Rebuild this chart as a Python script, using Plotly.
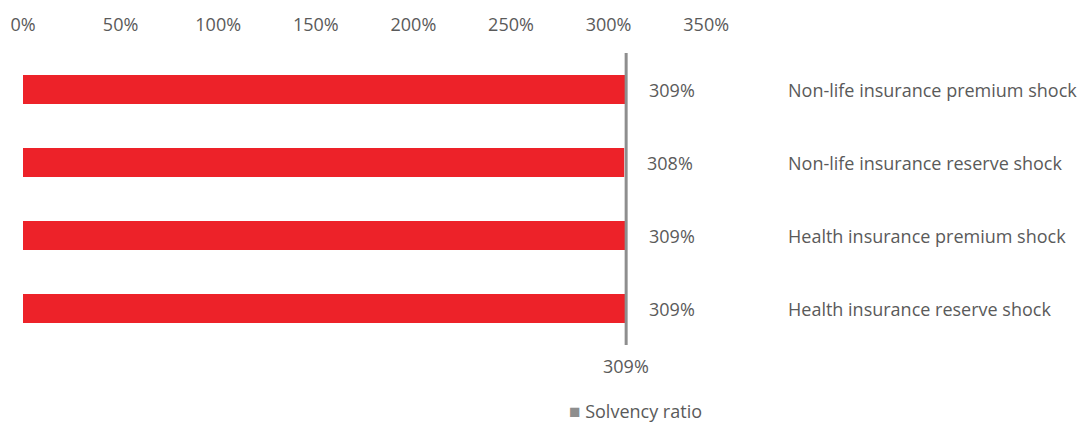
import plotly.graph_objects as go

categories = ["Non-life insurance premium shock", "Non-life insurance reserve shock",
              "Health insurance premium shock", "Health insurance reserve shock"]
values = [309, 308, 309, 309]
value_labels = ["309%", "308%", "309%", "309%"]
solvency_ratio = 309
solvency_label = "309%"
legend_name = "Solvency ratio"
tick_vals = [0, 50, 100, 150, 200, 250, 300, 350]
tick_text = ["0%", "50%", "100%", "150%", "200%", "250%", "300%", "350%"]

FONT = "Open Sans"
FS = 18
TXT = "#5a5a5a"
RED = "#ED2229"
GRAY = "#8E8E8E"

fig = go.Figure()
fig.add_trace(go.Bar(y=categories, x=values, orientation="h", marker=dict(color=RED, line=dict(width=0)),
                     width=0.4, showlegend=False, hoverinfo="skip"))
fig.add_trace(go.Scatter(x=[solvency_ratio, solvency_ratio], y=[-0.5, 3.5], yaxis="y2", mode="lines",
                         line=dict(color=GRAY, width=3), name=legend_name, showlegend=False, hoverinfo="skip"))

ann = []
for c, v, t in zip(categories, values, value_labels):
    ann.append(dict(x=v, y=c, text=t, xref="x", yref="y", xanchor="left", xshift=21, showarrow=False,
                    font=dict(family=FONT, size=FS, color=TXT)))
    ann.append(dict(x=0.7225, y=c, text=c, xref="paper", yref="y", xanchor="left", showarrow=False,
                    font=dict(family=FONT, size=FS, color=TXT)))
ann.append(dict(x=solvency_ratio, y=0, xref="x", yref="paper", text=solvency_label, yanchor="middle",
                yshift=-21, showarrow=False, font=dict(family=FONT, size=FS, color=TXT)))
ann.append(dict(x=0.5155, y=0, xref="paper", yref="paper", yshift=-66, yanchor="middle", xanchor="left",
                text=f"<span style='color:{GRAY};font-size:19px'>■</span> {legend_name}", showarrow=False,
                font=dict(family=FONT, size=FS, color=TXT)))

fig.update_layout(
    width=1079, height=427,
    margin=dict(l=23, r=0, t=53, b=82),
    plot_bgcolor="white", paper_bgcolor="white",
    font=dict(family=FONT, size=FS, color=TXT),
    xaxis=dict(range=[0, 541], side="top", tickvals=tick_vals, ticktext=tick_text,
               showgrid=False, zeroline=False, showline=False,
               ticks="outside", ticklen=14, tickcolor="rgba(0,0,0,0)",
               tickfont=dict(family=FONT, size=FS, color=TXT)),
    yaxis=dict(range=[3.5, -0.5], showticklabels=False, showgrid=False, zeroline=False, showline=False,
               categoryorder="array", categoryarray=categories),
    yaxis2=dict(range=[-0.5, 3.5], overlaying="y", visible=False),
    annotations=ann,
    showlegend=False,
)

fig.write_html("out.html", config={"displayModeBar": False},
               post_script="document.body.style.margin='0';document.body.style.overflow='hidden';")
